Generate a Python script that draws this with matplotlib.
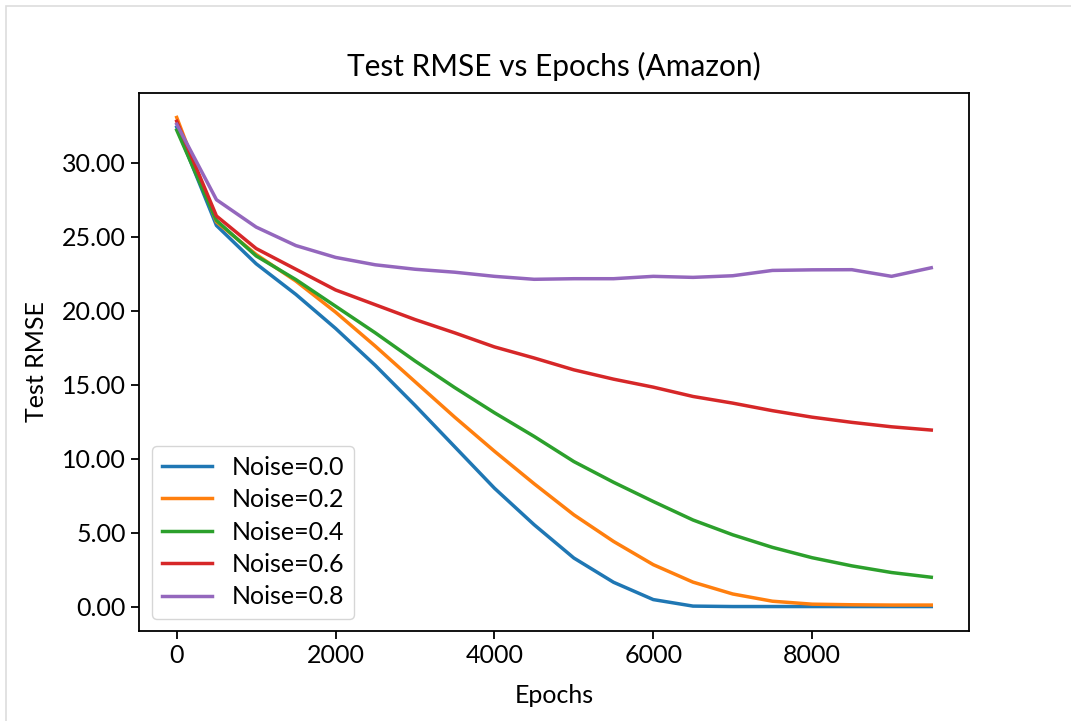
import matplotlib
matplotlib.use("Agg")
import matplotlib.pyplot as plt
from matplotlib.patches import Rectangle
from matplotlib.ticker import FormatStrFormatter

plt.rcParams["font.family"] = ["Lato", "DejaVu Sans"]

epochs = list(range(0, 10000, 500))
noise_00 = [32.4, 25.76, 23.17, 21.1, 18.8, 16.3, 13.6, 10.8, 8.0, 5.53, 3.28, 1.64, 0.47, 0.03,
            0.0, 0.0, 0.0, 0.0, 0.0, 0.0]
noise_02 = [33.06, 26.0, 23.8, 22.0, 19.9, 17.6, 15.2, 12.8, 10.5, 8.3, 6.2, 4.4, 2.83, 1.65,
            0.85, 0.36, 0.16, 0.12, 0.1, 0.1]
noise_04 = [32.2, 26.1, 23.7, 22.1, 20.3, 18.5, 16.6, 14.8, 13.1, 11.5, 9.8, 8.4, 7.1, 5.85,
            4.85, 4.0, 3.3, 2.75, 2.3, 1.98]
noise_06 = [32.8, 26.4, 24.2, 22.8, 21.4, 20.4, 19.4, 18.5, 17.55, 16.8, 16.0, 15.37, 14.83, 14.2,
            13.75, 13.24, 12.8, 12.45, 12.15, 11.93]
noise_08 = [32.6, 27.5, 25.65, 24.4, 23.6, 23.1, 22.8, 22.6, 22.32, 22.12, 22.16, 22.16, 22.32, 22.25,
            22.36, 22.72, 22.76, 22.77, 22.32, 22.9]

series = [("Noise=0.0", noise_00), ("Noise=0.2", noise_02), ("Noise=0.4", noise_04),
          ("Noise=0.6", noise_06), ("Noise=0.8", noise_08)]

fig = plt.figure(figsize=(10.71, 7.21), dpi=100)
ax = fig.add_axes([139 / 1071, 1 - 631 / 721, 830 / 1071, 538 / 721])
for label, vals in series:
    ax.plot(epochs, vals, lw=2.5, label=label)

ax.set_title("Test RMSE vs Epochs (Amazon)", fontsize=21.5, pad=12)
ax.set_xlabel("Epochs", fontsize=18, labelpad=12)
ax.set_ylabel("Test RMSE", fontsize=18, labelpad=10)
ax.tick_params(labelsize=18, width=1.3, length=6)
ax.yaxis.set_major_formatter(FormatStrFormatter("%.2f"))
for s in ax.spines.values():
    s.set_linewidth(1.3)
ax.legend(loc="lower left", fontsize=18, handlelength=2.0, labelspacing=0.38)

fig.patches.append(Rectangle((6 / 1071, -0.01), 1.02, 1 - 6 / 721 + 0.01, transform=fig.transFigure,
                             fill=False, edgecolor="#dddddd", lw=1.2))
fig.savefig("out.png", dpi=100, facecolor="white")
